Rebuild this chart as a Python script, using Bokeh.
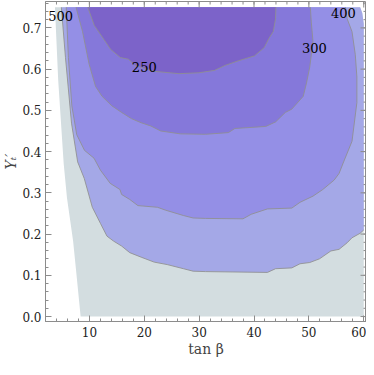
from bokeh.plotting import figure
from bokeh.models import Range1d, FixedTicker, NumeralTickFormatter
from bokeh.core.properties import value
from bokeh.embed import file_html
from bokeh.resources import INLINE

# ---- data (tan beta, Y) ----
edge_left_tb = [3.72, 4.31, 5.32, 5.91, 7.03, 7.60, 8.40]
edge_left_y = [0.750, 0.574, 0.370, 0.288, 0.183, 0.108, 0.000]
edge_right_tb = [60.0, 60.0, 59.73, 59.34]
edge_right_y = [0.000, 0.710, 0.736, 0.750]

c500_tb = [4.89, 5.64, 6.74, 7.86, 9.06, 10.53, 12.01, 13.20, 14.40, 15.87, 17.35,
           19.43, 21.80, 24.18, 27.14, 28.91, 31.17, 42.44, 43.93, 46.89, 48.38,
           50.16, 51.94, 54.00, 55.50, 56.98, 57.86, 59.34, 60.0]
c500_y = [0.750, 0.628, 0.469, 0.375, 0.335, 0.265, 0.226, 0.195, 0.183, 0.171, 0.155,
          0.144, 0.132, 0.126, 0.116, 0.110, 0.109, 0.107, 0.116, 0.118, 0.128,
          0.131, 0.140, 0.159, 0.163, 0.179, 0.191, 0.202, 0.210]

c400_tb = [5.78, 6.17, 6.80, 7.69, 9.11, 10.84, 12.01, 13.79, 15.57, 15.87, 17.35,
           18.84, 22.40, 23.88, 27.14, 28.91, 31.17, 37.99, 39.48, 42.44, 46.89,
           48.38, 50.75, 52.53, 54.61, 55.50, 56.39, 57.86, 58.75, 58.75, 58.45,
           57.86, 56.98, 56.67]
c400_y = [0.750, 0.628, 0.511, 0.441, 0.403, 0.384, 0.355, 0.323, 0.308, 0.296, 0.284,
          0.269, 0.265, 0.258, 0.245, 0.239, 0.238, 0.237, 0.248, 0.261, 0.263,
          0.277, 0.292, 0.308, 0.331, 0.347, 0.377, 0.425, 0.519, 0.581, 0.636,
          0.691, 0.722, 0.750]

c300_tb = [7.56, 8.75, 9.95, 11.12, 12.31, 14.09, 15.87, 17.65, 19.43, 21.21, 22.99,
           26.55, 31.17, 35.32, 36.51, 42.15, 43.93, 45.71, 46.89, 48.97, 49.56,
           50.16, 50.75, 50.44, 50.27]
c300_y = [0.750, 0.691, 0.612, 0.558, 0.534, 0.511, 0.495, 0.480, 0.470, 0.462, 0.450,
          0.443, 0.442, 0.446, 0.456, 0.461, 0.472, 0.495, 0.503, 0.534, 0.566,
          0.605, 0.667, 0.714, 0.750]

c250_tb = [9.70, 10.89, 12.08, 13.86, 15.64, 17.12, 18.31, 21.57, 26.32, 29.88, 32.83,
           34.73, 37.10, 40.07, 41.85, 42.74, 43.51, 43.93, 43.99]
c250_y = [0.750, 0.706, 0.683, 0.648, 0.628, 0.624, 0.609, 0.595, 0.589, 0.591, 0.597,
          0.609, 0.620, 0.632, 0.652, 0.675, 0.691, 0.722, 0.750]

contour_labels = ["500", "400", "300", "250"]
label_tb = [4.75, 56.3, 51.0, 20.0]
label_y = [0.730, 0.737, 0.652, 0.605]

x_ticks = [10, 20, 30, 40, 50, 60]
y_ticks = [0.0, 0.1, 0.2, 0.3, 0.4, 0.5, 0.6, 0.7]

X_MIN, X_MAX = 2.0, 60.5
Y_MIN, Y_MAX = -0.012, 0.764

SERIF = "DejaVu Serif"

p = figure(width=366, height=359, output_backend="svg", toolbar_location=None,
           x_range=Range1d(X_MIN, X_MAX), y_range=Range1d(Y_MIN, Y_MAX),
           min_border_left=36, min_border_right=0, min_border_top=1, min_border_bottom=0)
p.xgrid.visible = False
p.ygrid.visible = False
p.background_fill_color = "white"
p.outline_line_color = "#8c8c8c"
p.outline_line_width = 1

fills = ["#d3dde0", "#a4a8e7", "#948fe6", "#8578da", "#7c63c9"]

dom_x = edge_left_tb + edge_right_tb
dom_y = edge_left_y + edge_right_y
p.patch(dom_x, dom_y, fill_color=fills[0], line_color=None)

r_x = [t for t, y in zip(edge_right_tb, edge_right_y) if y > c500_y[-1]]
r_y = [y for y in edge_right_y if y > c500_y[-1]]
p.patch(c500_tb + r_x, c500_y + r_y, fill_color=fills[1], line_color=None)

for (cx, cy), col in zip([(c400_tb, c400_y), (c300_tb, c300_y), (c250_tb, c250_y)], fills[2:]):
    p.patch(cx, cy, fill_color=col, line_color=None)

for cx, cy in [(c500_tb, c500_y), (c400_tb, c400_y), (c300_tb, c300_y), (c250_tb, c250_y)]:
    p.line(cx, cy, line_color="#8f8f8f", line_width=1, line_alpha=0.85)

p.text(x=label_tb, y=label_y, text=contour_labels, text_font=value(SERIF),
       text_font_size="13px", text_color="black", text_align="center",
       text_baseline="middle")

# ---- axes (bottom / left) ----
x_minor = list(range(2, 61, 2))
y_minor = [i / 50 for i in range(0, 39)]
xt = FixedTicker(ticks=x_ticks, minor_ticks=x_minor)
yt = FixedTicker(ticks=y_ticks, minor_ticks=y_minor)

def style(ax):
    ax.axis_line_color = "#8c8c8c"
    ax.major_tick_line_color = "#8c8c8c"
    ax.minor_tick_line_color = "#8c8c8c"
    ax.major_tick_in = 6
    ax.major_tick_out = 0
    ax.minor_tick_in = 3
    ax.minor_tick_out = 0
    ax.major_label_text_font = SERIF
    ax.major_label_text_color = "#222222"
    ax.major_label_text_font_size = "12px"
    ax.axis_label_text_font = SERIF
    ax.axis_label_text_font_size = "14px"
    ax.axis_label_text_font_style = "normal"
    ax.axis_label_text_color = "#444444"

xa = p.xaxis[0]
xa.ticker = xt
xa.formatter = NumeralTickFormatter(format="0")
xa.axis_label = "tan β"
xa.major_label_standoff = 5
xa.axis_label_standoff = 1
style(xa)

ya = p.yaxis[0]
ya.ticker = yt
ya.formatter = NumeralTickFormatter(format="0.0")
ya.axis_label = "Yₜ′"
ya.major_label_standoff = 4
ya.axis_label_standoff = 0
style(ya)
ya.axis_label_text_font_style = "italic"

# ---- inward ticks on the top and right frame edges ----
tick_col = "#8c8c8c"
FRAME_W_PX, FRAME_H_PX = 322, 318          # approximate frame size, for tick lengths
dx_px = (X_MAX - X_MIN) / FRAME_W_PX
dy_px = (Y_MAX - Y_MIN) / FRAME_H_PX

def top_ticks(xs, n_px):
    p.segment(x0=xs, y0=[Y_MAX] * len(xs), x1=xs, y1=[Y_MAX - n_px * dy_px] * len(xs),
              line_color=tick_col, line_width=1)

def right_ticks(ys, n_px):
    p.segment(x0=[X_MAX] * len(ys), y0=ys, x1=[X_MAX - n_px * dx_px] * len(ys), y1=ys,
              line_color=tick_col, line_width=1)

top_ticks(x_ticks, 6)
top_ticks(x_minor, 3)
right_ticks(y_ticks, 6)
right_ticks(y_minor, 3)

open("out.html", "w").write(file_html(p, INLINE))
